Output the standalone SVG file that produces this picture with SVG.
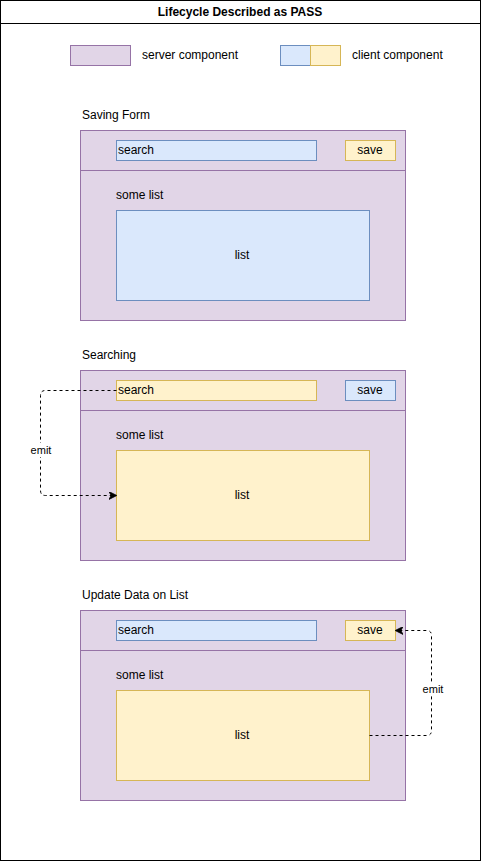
<svg xmlns="http://www.w3.org/2000/svg" width="481" height="861" viewBox="0 0 481 861">
<style>
text{font-family:"Liberation Sans",Arial,sans-serif;font-size:12px;fill:#000}
.srv{fill:#e1d5e7;stroke:#9673a6;stroke-width:1}
.blue{fill:#dae8fc;stroke:#6c8ebf;stroke-width:1}
.yel{fill:#fff2cc;stroke:#d6b656;stroke-width:1}
.c{text-anchor:middle;dominant-baseline:central}
.l{dominant-baseline:central}
.edge{fill:none;stroke:#000;stroke-width:1;stroke-dasharray:3 3}
</style>
<defs>
<marker id="arr" viewBox="0 0 10 10" refX="9" refY="5" markerWidth="8" markerHeight="8" markerUnits="userSpaceOnUse" orient="auto">
<path d="M0,0 L10,5 L0,10 L3,5 Z" fill="#000" stroke="#000"/>
</marker>
</defs>
<g id="frame">
<rect x="0.5" y="0.5" width="480" height="860" fill="#fff" stroke="#000"/>
<line x1="0.5" y1="23.5" x2="480.5" y2="23.5" stroke="#000"/>
<text x="240" y="12" class="c" style="font-weight:bold">Lifecycle Described as PASS</text>
</g>
<g id="legend">
<rect x="70.5" y="45.5" width="60" height="20" class="srv"/>
<text x="142" y="55" class="l">server component</text>
<rect x="280.5" y="45.5" width="30" height="20" class="blue"/>
<rect x="310.5" y="45.5" width="30" height="20" class="yel"/>
<text x="352" y="55" class="l">client component</text>
</g>
<g id="panel1">
<text x="82" y="115" class="l">Saving Form</text>
<rect x="80.5" y="130.5" width="325" height="190" class="srv"/>
<line x1="80.5" y1="170.5" x2="405.5" y2="170.5" stroke="#9673a6"/>
<rect x="116.5" y="140.5" width="200" height="20" class="blue"/>
<text x="118" y="150" class="l">search</text>
<rect x="345.5" y="140.5" width="50" height="20" class="yel"/>
<text x="370" y="150" class="c">save</text>
<text x="116" y="195" class="l">some list</text>
<rect x="116.5" y="210.5" width="253" height="90" class="blue"/>
<text x="242" y="255" class="c">list</text>
</g>
<g id="panel2">
<text x="82" y="355" class="l">Searching</text>
<rect x="80.5" y="370.5" width="325" height="190" class="srv"/>
<line x1="80.5" y1="410.5" x2="405.5" y2="410.5" stroke="#9673a6"/>
<rect x="116.5" y="380.5" width="200" height="20" class="yel"/>
<text x="118" y="390" class="l">search</text>
<rect x="345.5" y="380.5" width="50" height="20" class="blue"/>
<text x="370" y="390" class="c">save</text>
<text x="116" y="435" class="l">some list</text>
<rect x="116.5" y="450.5" width="253" height="90" class="yel"/>
<text x="242" y="495" class="c">list</text>
</g>
<g id="panel3">
<text x="82" y="595" class="l">Update Data on List</text>
<rect x="80.5" y="610.5" width="325" height="190" class="srv"/>
<line x1="80.5" y1="650.5" x2="405.5" y2="650.5" stroke="#9673a6"/>
<rect x="116.5" y="620.5" width="200" height="20" class="blue"/>
<text x="118" y="630" class="l">search</text>
<rect x="345.5" y="620.5" width="50" height="20" class="yel"/>
<text x="370" y="630" class="c">save</text>
<text x="116" y="675" class="l">some list</text>
<rect x="116.5" y="690.5" width="253" height="90" class="yel"/>
<text x="242" y="735" class="c">list</text>
</g>
<g id="connectors">
<path class="edge" d="M116.5,390.5 L45.5,390.5 Q40.5,390.5 40.5,395.5 L40.5,490.5 Q40.5,495.5 45.5,495.5 L116,495.5" marker-end="url(#arr)"/>
<rect x="29" y="443" width="24" height="14" fill="#fff"/>
<text x="41" y="450" class="c" style="font-size:11px">emit</text>
<path class="edge" d="M369.5,735.5 L426.5,735.5 Q431.5,735.5 431.5,730.5 L431.5,635.5 Q431.5,630.5 426.5,630.5 L396,630.5" marker-end="url(#arr)"/>
<rect x="421" y="682" width="24" height="14" fill="#fff"/>
<text x="433" y="689" class="c" style="font-size:11px">emit</text>
</g>
</svg>
